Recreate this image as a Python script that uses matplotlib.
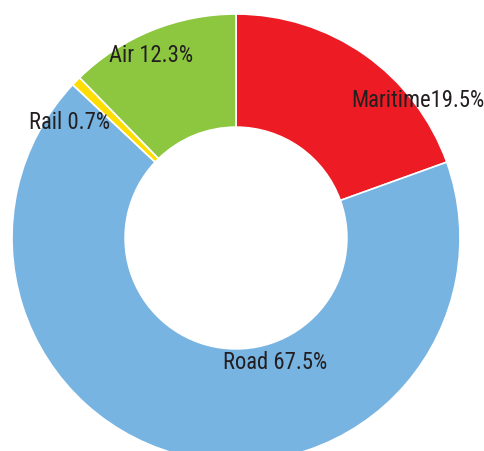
import matplotlib
matplotlib.use('Agg')
import matplotlib.pyplot as plt
from matplotlib import font_manager

# data
modes = ['Maritime', 'Road', 'Rail', 'Air']
shares = [19.5, 67.5, 0.7, 12.3]
labels = ['Maritime19.5%', 'Road 67.5%', 'Rail 0.7%', 'Air 12.3%']
colors = ['#ED1C24', '#78B4E2', '#FFDD00', '#8DC63F']

# condensed font, first one installed
names = {f.name for f in font_manager.fontManager.ttflist}
candidates = ['Roboto Condensed', 'Archivo Narrow', 'PT Sans Narrow',
              'Liberation Sans Narrow', 'Open Sans Condensed', 'DejaVu Sans']
font = next(c for c in candidates if c in names)

fig = plt.figure(figsize=(4.84, 4.52), dpi=100)
ax = fig.add_axes([0, 0, 1, 1])

ax.pie(shares, colors=colors, startangle=90, counterclock=False,
       radius=1.0, wedgeprops=dict(width=0.505, edgecolor='white', linewidth=1.2))

# label positions (in radius units)
label_pos = [(0.81, 0.62), (0.175, -0.55), (-0.745, 0.52), (-0.38, 0.82)]
for txt, (x, y) in zip(labels, label_pos):
    ax.text(x, y, txt, ha='center', va='center', fontsize=16.3,
            family=font, color='#231F20')

ax.set_xlim(-236 / 224, 248 / 224)
ax.set_ylim(-213 / 224, 239 / 224)
ax.set_aspect('equal')
ax.axis('off')

fig.savefig('out.png', dpi=100)
